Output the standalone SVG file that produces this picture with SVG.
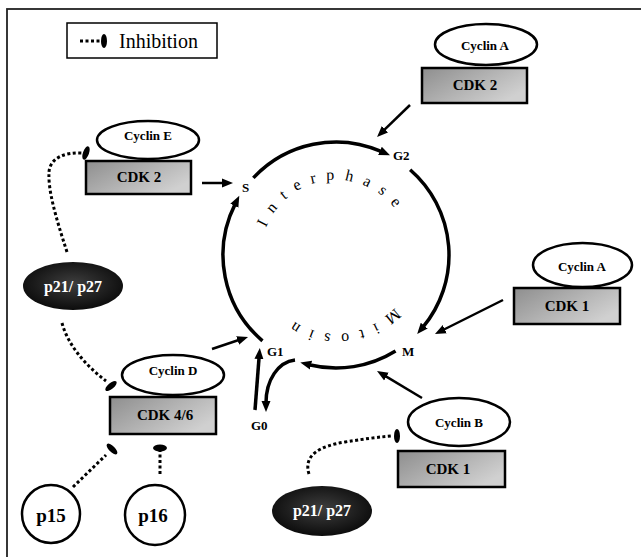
<svg xmlns="http://www.w3.org/2000/svg" width="641" height="557" viewBox="0 0 641 557">
<defs>
<linearGradient id="cdk" x1="0" y1="0" x2="1" y2="0.6">
<stop offset="0" stop-color="#8e8e8e"/>
<stop offset="1" stop-color="#d0d0d0"/>
</linearGradient>
<radialGradient id="dark" cx="0.5" cy="0.45" r="0.55">
<stop offset="0" stop-color="#3e3e3e"/>
<stop offset="1" stop-color="#0c0c0c"/>
</radialGradient>
<marker id="ah" markerWidth="12" markerHeight="10" refX="2" refY="5" orient="auto" markerUnits="userSpaceOnUse">
<path d="M0,0.5 L11,5 L0,9.5 Z" fill="#000"/>
</marker>
<path id="arcI" d="M261.29,248.46 A75,75 0 0 1 408.44,235.59"/>
<path id="arcM" d="M406.6,289.4 A78,78 0 0 1 271.9,299.7"/>
</defs>
<style>
text{font-family:"Liberation Serif","DejaVu Serif",serif}
.cdk{fill:url(#cdk);stroke:#000;stroke-width:2.5}
.cyc{fill:#fff;stroke:#000;stroke-width:2.5}
.dk{fill:url(#dark);stroke:none}
.pc{fill:#fff;stroke:#000;stroke-width:2.5}
.t{font-weight:bold;fill:#000;text-anchor:middle}
.cy{font-size:13px}
.ck{font-size:15px}
.pw{font-size:16px;fill:#fff}
.pp{font-size:19px}
.lab{font-weight:bold;font-size:13px;fill:#000}
.arc{fill:none;stroke:#000;stroke-width:3.5;marker-end:url(#ah)}
.ar{fill:none;stroke:#000;stroke-width:2.5;marker-end:url(#ah)}
.dot{fill:none;stroke:#000;stroke-width:3;stroke-dasharray:3 2.5}
.inh{fill:#000}
.ring{font-size:16px;letter-spacing:10px;fill:#000}
</style>
<rect x="7" y="9" width="700" height="600" fill="none" stroke="#222" stroke-width="1.8"/>

<g id="legend">
<rect x="67" y="23" width="150" height="35" fill="#fff" stroke="#000" stroke-width="1.5"/>
<line x1="80" y1="41" x2="100" y2="41" class="dot" stroke-width="2.5"/>
<ellipse cx="104" cy="41" rx="3" ry="7" class="inh"/>
<text x="119" y="48" font-size="20" fill="#000">Inhibition</text>
</g>

<g id="cycle">
<text class="ring"><textPath href="#arcI" startOffset="50%" text-anchor="middle">Interphase</textPath></text>
<text class="ring"><textPath href="#arcM" startOffset="50%" text-anchor="middle">Mitosin</textPath></text>
<text class="lab" x="242" y="192">S</text>
<text class="lab" x="393" y="160">G2</text>
<text class="lab" x="402" y="356">M</text>
<text class="lab" x="267" y="356">G1</text>
<text class="lab" x="251" y="430">G0</text>
</g>

<g id="cyclinE-cdk2">
<ellipse cx="148" cy="140" rx="51" ry="19" class="cyc"/>
<text class="t cy" x="148" y="140">Cyclin E</text>
<rect x="86" y="161" width="105" height="33" class="cdk"/>
<text class="t ck" x="139" y="182">CDK 2</text>
</g>

<g id="cyclinA-cdk2">
<ellipse cx="486" cy="44.5" rx="51" ry="20.5" class="cyc"/>
<text class="t cy" x="485" y="50">Cyclin A</text>
<rect x="422" y="68" width="105" height="35" class="cdk"/>
<text class="t ck" x="475" y="90">CDK 2</text>
</g>

<g id="cyclinA-cdk1">
<ellipse cx="582.5" cy="265" rx="49.5" ry="22" class="cyc"/>
<text class="t cy" x="582" y="271">Cyclin A</text>
<rect x="514" y="288" width="106" height="36" class="cdk"/>
<text class="t ck" x="567" y="311">CDK 1</text>
</g>

<g id="cyclinB-cdk1">
<ellipse cx="459" cy="422" rx="51" ry="24" class="cyc"/>
<text class="t cy" x="459" y="427">Cyclin B</text>
<rect x="398" y="451" width="107" height="36" class="cdk"/>
<text class="t ck" x="448" y="474">CDK 1</text>
</g>

<g id="cyclinD-cdk46">
<ellipse cx="173" cy="375" rx="51" ry="20" class="cyc"/>
<text class="t cy" x="173" y="375">Cyclin D</text>
<rect x="110" y="397" width="106" height="37" class="cdk"/>
<text class="t ck" x="165" y="420">CDK 4/6</text>
</g>

<g id="p21p27-left">
<ellipse cx="73" cy="286" rx="50" ry="24" class="dk"/>
<text class="t pw" x="73" y="292">p21/ p27</text>
</g>

<g id="p21p27-bottom">
<ellipse cx="322" cy="511" rx="50" ry="25" class="dk"/>
<text class="t pw" x="322" y="516">p21/ p27</text>
</g>

<g id="p15">
<circle cx="51" cy="514" r="29" class="pc"/>
<text class="t pp" x="51" y="522">p15</text>
</g>

<g id="p16">
<circle cx="155" cy="515" r="30" class="pc"/>
<text class="t pp" x="153" y="522">p16</text>
</g>

<g id="connectors">
<path class="arc" d="M253.35,177.93 A113,113 0 0 1 381.78,151.68"/>
<path class="arc" d="M410.14,169.72 A113,113 0 0 1 422.94,327.18"/>
<path class="arc" d="M395.55,351.04 A113,113 0 0 1 309.05,364.73"/>
<path class="arc" d="M262.46,340.80 A113,113 0 0 1 235.23,203.88"/>
<path class="ar" d="M202,183 L224,183"/>
<path class="ar" d="M410,105 L383.5,130.7"/>
<path class="ar" d="M503,300 L443,330"/>
<path class="ar" d="M422,398 L384.7,375.6"/>
<path class="ar" d="M212,349 L239.5,339.8"/>
<path class="arc" stroke-width="3" d="M255,410 L259.1,357"/>
<path class="arc" stroke-width="3" d="M295,360 C278,362 266,380 266,403"/>

<path class="dot" d="M67,252 C55,215 48,190 49,172 C50,158 65,152 82,153"/>
<ellipse cx="86" cy="153" rx="3" ry="7" transform="rotate(20 86 153)" class="inh"/>
<path class="dot" d="M62,323 C68,345 85,365 106,381"/>
<ellipse cx="111" cy="386" rx="3" ry="7" transform="rotate(50 111 386)" class="inh"/>
<path class="dot" d="M73,487 L106,455"/>
<ellipse cx="112" cy="449" rx="3" ry="7" transform="rotate(-45 112 449)" class="inh"/>
<path class="dot" d="M160,474 L160,451"/>
<ellipse cx="160" cy="448" rx="7" ry="3.5" class="inh"/>
<path class="dot" d="M309,474 C303,455 320,446 345,442 S380,437 392,436"/>
<ellipse cx="397" cy="436" rx="3" ry="7" class="inh"/>
</g>
</svg>
